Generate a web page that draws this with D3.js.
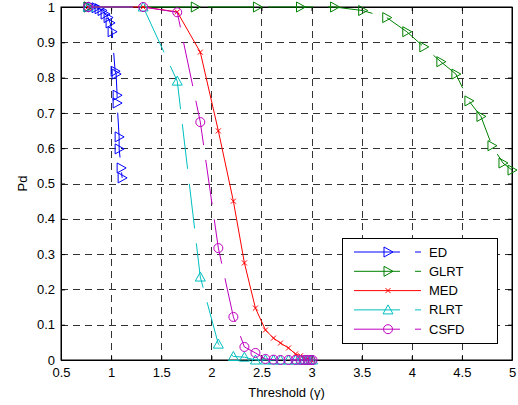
<!DOCTYPE html>
<html><head><meta charset="utf-8">
<script src="https://cdn.jsdelivr.net/npm/d3@7"></script>
<style>body{margin:0;background:#fff}svg{display:block;font-family:"Liberation Sans",Arial,sans-serif}</style>
</head><body><svg id="c" width="518" height="405"></svg>
<script>
// ---- data ----
const thresholds = [0.77,1.32,1.66,1.89,2.07,2.22,2.33,2.44,2.54,2.62,2.69,2.77,2.84,2.89,2.93,2.96,2.99,3.01];
const medPd  = [1,1,0.986,0.872,0.649,0.45,0.275,0.147,0.085,0.062,0.048,0.034,0.017,0.012,0.006,0.003,0.001,0];
const rlrtPd = [1,1,0.79,0.235,0.045,0.01,0.008,0,0,0,0,0,0,0,0,0,0,0];
const csfdPd = [1,1,0.985,0.674,0.317,0.122,0.037,0.02,0.003,0.001,0,0,0,0,0,0,0,0];
const edThr  = [0.77,0.81,0.85,0.88,0.91,0.94,0.97,0.99,1.01,1.04,1.05,1.06,1.06,1.08,1.08,1.10,1.11];
const edPd   = [1,1,0.998,0.995,0.99,0.98,0.97,0.955,0.93,0.818,0.81,0.75,0.728,0.632,0.598,0.544,0.516];
const glrtThr = [0.77,1.84,2.46,2.89,3.23,3.51,3.75,3.95,4.12,4.29,4.44,4.57,4.69,4.80,4.91,5.0];
const glrtPd  = [1,1,1,1,1,0.99,0.97,0.93,0.887,0.845,0.81,0.734,0.69,0.607,0.558,0.538];
const seriesNames = ["ED","GLRT","MED","RLRT","CSFD"];
const xTicks = [0.5,1,1.5,2,2.5,3,3.5,4,4.5,5];
const yTicks = [0,0.1,0.2,0.3,0.4,0.5,0.6,0.7,0.8,0.9,1];
const xLabel = "Threshold (γ)";
const yLabel = "Pd";

// ---- layout ----
const L=61, R=512, T=7, B=360;
const x = d3.scaleLinear().domain([0.5,5]).range([L,R]);
const y = d3.scaleLinear().domain([0,1]).range([B,T]);
const svg = d3.select("#c");
svg.append("rect").attr("width",518).attr("height",405).attr("fill","#fff");

// grid
const g = svg.append("g");
g.selectAll(".gx").data(xTicks.slice(1,-1)).enter().append("line")
  .attr("x1",d=>Math.round(x(d))+0.5).attr("x2",d=>Math.round(x(d))+0.5).attr("y1",T).attr("y2",B)
  .attr("stroke","#333").attr("stroke-dasharray","7,5");
g.selectAll(".gy").data(yTicks.slice(1,-1)).enter().append("line")
  .attr("y1",d=>Math.round(y(d))+0.5).attr("y2",d=>Math.round(y(d))+0.5).attr("x1",L).attr("x2",R)
  .attr("stroke","#333").attr("stroke-dasharray","7,5");

// axes
const fmt = d=>String(d);
const axB = d3.axisBottom(x).tickValues(xTicks).tickFormat(fmt).tickSizeInner(-4).tickSizeOuter(0).tickPadding(8);
const axL = d3.axisLeft(y).tickValues(yTicks).tickFormat(fmt).tickSizeInner(-4).tickSizeOuter(0).tickPadding(6);
const axT = d3.axisTop(x).tickValues(xTicks).tickFormat("").tickSizeInner(-4).tickSizeOuter(0);
const axR = d3.axisRight(y).tickValues(yTicks).tickFormat("").tickSizeInner(-4).tickSizeOuter(0);
function style(sel){sel.selectAll("path").attr("stroke","#000");sel.selectAll("line").attr("stroke","#000");
  sel.selectAll("text").attr("font-size",13).attr("fill","#000").attr("font-family","Liberation Sans, Arial, sans-serif");}
svg.append("g").attr("transform",`translate(0,${B})`).call(axB).call(style);
svg.append("g").attr("transform",`translate(${L},0)`).call(axL).call(style);
svg.append("g").attr("transform",`translate(0,${T})`).call(axT).call(style);
svg.append("g").attr("transform",`translate(${R},0)`).call(axR).call(style);
svg.append("rect").attr("x",L).attr("y",T).attr("width",R-L).attr("height",B-T).attr("fill","none").attr("stroke","#000");

svg.append("text").attr("x",(L+R)/2).attr("y",397).attr("text-anchor","middle").attr("font-size",13).text(xLabel);
svg.append("text").attr("transform",`translate(27,${(T+B)/2}) rotate(-90)`).attr("text-anchor","middle").attr("font-size",13).text(yLabel);

// series
const colors = {ED:"#0000ff",GLRT:"#008000",MED:"#ff0000",RLRT:"#00bfbf",CSFD:"#bf00bf"};
const dashes = {ED:"45,15",GLRT:"45,15",MED:null,RLRT:"45,15",CSFD:"45,15"};
const markers = {
  ED:"M-4,-5L5,0L-4,5Z",
  GLRT:"M-4,-5L5,0L-4,5Z",
  MED:"M-2.5,-2.5L2.5,2.5M-2.5,2.5L2.5,-2.5",
  RLRT:"M0,-5L5,4L-5,4Z",
  CSFD:"M4.5,0A4.5,4.5 0 1,1 -4.5,0A4.5,4.5 0 1,1 4.5,0Z"
};
const data = {
  ED: edThr.map((t,i)=>[t,edPd[i]]),
  GLRT: glrtThr.map((t,i)=>[t,glrtPd[i]]),
  MED: thresholds.map((t,i)=>[t,medPd[i]]),
  RLRT: thresholds.map((t,i)=>[t,rlrtPd[i]]),
  CSFD: thresholds.map((t,i)=>[t,csfdPd[i]])
};
const line = d3.line().x(d=>x(d[0])).y(d=>y(d[1]));
seriesNames.forEach(n=>{
  const s = svg.append("g");
  s.append("path").attr("d",line(data[n])).attr("fill","none").attr("stroke",colors[n])
   .attr("stroke-width",1).attr("stroke-dasharray",dashes[n]);
  s.selectAll("path.m").data(data[n]).enter().append("path").attr("class","m")
   .attr("d",markers[n]).attr("transform",d=>`translate(${x(d[0])},${y(d[1])})`)
   .attr("fill","none").attr("stroke",colors[n]).attr("stroke-width",1);
});

// legend
const lg = svg.append("g");
lg.append("rect").attr("x",342.5).attr("y",238.5).attr("width",155).attr("height",105).attr("fill","#fff").attr("stroke","#000");
seriesNames.forEach((n,i)=>{
  const yy = 252 + i*19.3;
  lg.append("line").attr("x1",354).attr("x2",421).attr("y1",yy).attr("y2",yy).attr("stroke",colors[n])
    .attr("stroke-dasharray",dashes[n]?"46,15":null);
  lg.append("path").attr("d",markers[n]).attr("transform",`translate(388,${yy})`).attr("fill","none").attr("stroke",colors[n]);
  lg.append("text").attr("x",429).attr("y",yy+4.5).attr("font-size",13).text(n);
});
</script></body></html>
